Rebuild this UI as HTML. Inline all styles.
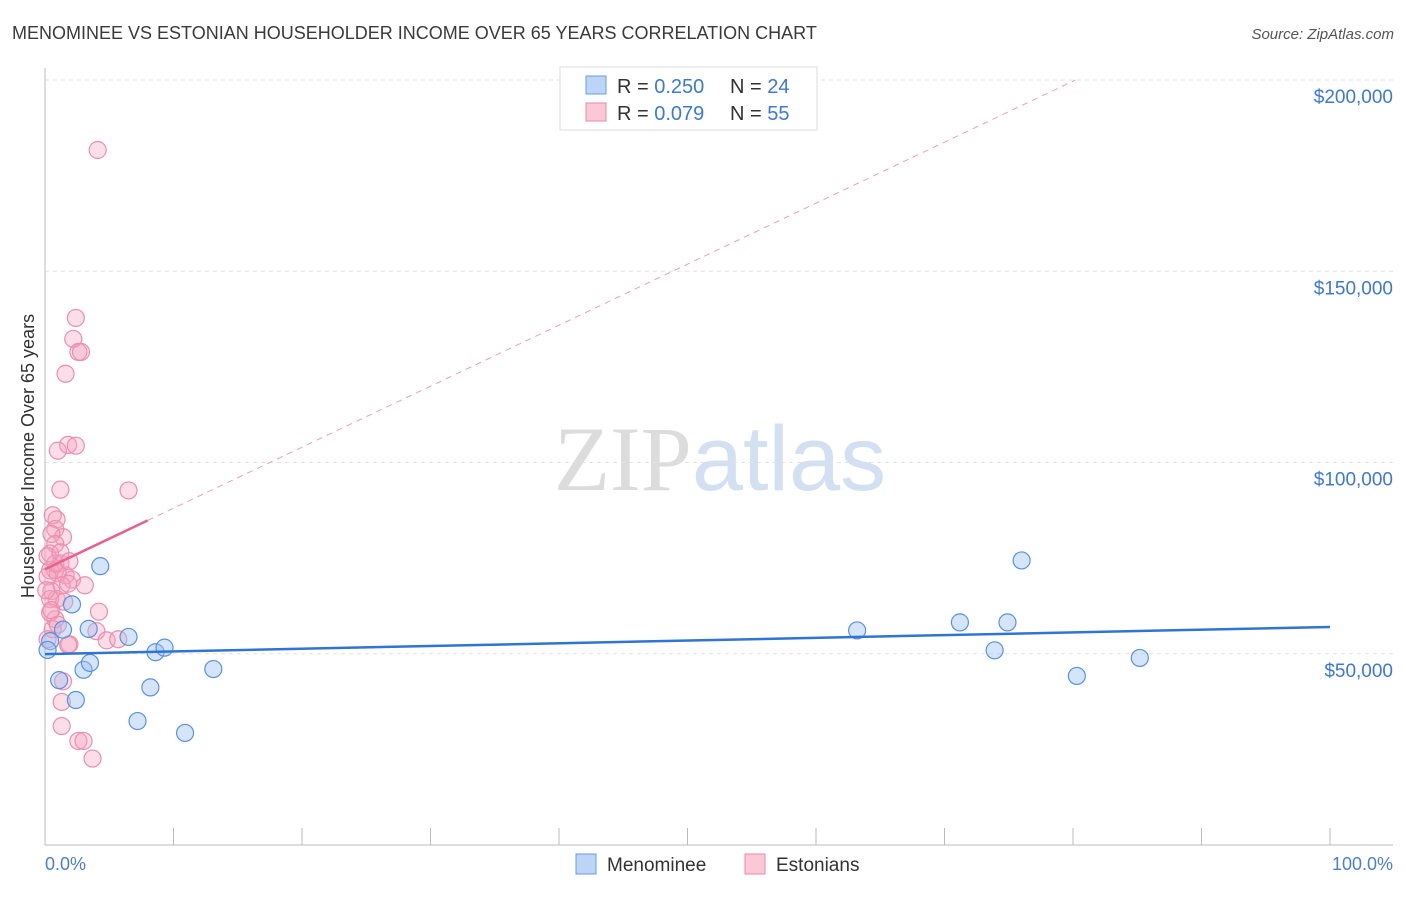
<!DOCTYPE html>
<html><head><meta charset="utf-8"><style>
body{margin:0;background:#fff;font-family:"Liberation Sans",sans-serif;}
svg text{font-family:"Liberation Sans",sans-serif;}
</style></head><body>
<svg id="chart" width="1406" height="892" xmlns="http://www.w3.org/2000/svg">
<text x="12" y="39" font-size="18" fill="#3a3a3a">MENOMINEE VS ESTONIAN HOUSEHOLDER INCOME OVER 65 YEARS CORRELATION CHART</text>
<text x="1394" y="39" font-size="15" fill="#555" text-anchor="end" font-style="italic">Source: ZipAtlas.com</text>
<text x="720" y="490" font-size="92" text-anchor="middle"><tspan fill="#dcdcdc" font-family="Liberation Serif">ZIP</tspan><tspan fill="#d2e0f2">atlas</tspan></text>
<g id="grid"></g><g id="axes"></g><g id="pts"></g><g id="trend"></g>
<text transform="translate(34,456) rotate(-90)" font-size="18" fill="#333" text-anchor="middle">Householder Income Over 65 years</text>
<text x="45" y="870" font-size="18" fill="#4a7fd4">0.0%</text>
<text x="1393" y="870" font-size="18" fill="#4a7fd4" text-anchor="end">100.0%</text>
<g>
<rect x="560" y="67" width="257" height="63" fill="#fff" stroke="#ddd"/>
<rect x="586" y="76" width="20" height="18" fill="#bcd4f6" stroke="#6a9de0"/>
<rect x="586" y="103" width="20" height="18" fill="#fbc8d6" stroke="#e888a8"/>
<text x="617" y="93" font-size="20" fill="#333">R = <tspan fill="#3c78d8">0.250</tspan></text>
<text x="730" y="93" font-size="20" fill="#333">N = <tspan fill="#3c78d8">24</tspan></text>
<text x="617" y="120" font-size="20" fill="#333">R = <tspan fill="#3c78d8">0.079</tspan></text>
<text x="730" y="120" font-size="20" fill="#333">N = <tspan fill="#3c78d8">55</tspan></text>
</g>
<g>
<rect x="576" y="854" width="20" height="20" fill="#bcd4f6" stroke="#6a9de0"/>
<text x="607" y="871" font-size="19" fill="#333">Menominee</text>
<rect x="745" y="854" width="20" height="20" fill="#fbc8d6" stroke="#e888a8"/>
<text x="776" y="871" font-size="19" fill="#333">Estonians</text>
</g>
</svg>
<script>
const yTicks=[50000,100000,150000,200000];
const yTickLabels=["$50,000","$100,000","$150,000","$200,000"];
const blueX=[0.4,1.1,1.4,2.1,2.4,3,3.4,3.5,4.3,6.5,7.2,8.2,8.6,9.3,10.9,13.1,63.2,71.2,73.9,74.9,76,80.3,85.2,0.2];
const blueY=[53.3,43.1,56.3,62.9,37.9,45.8,56.5,47.6,72.9,54.4,32.4,41.2,50.4,51.6,29.3,46.0,56.1,58.2,50.9,58.2,74.4,44.2,48.9,51.0];
const pinkX=[4.1,2.4,2.2,2.6,2.8,1.6,1.8,2.4,1,1.2,6.5,0.9,0.6,0.8,1.4,0.5,0.8,0.4,1.2,1.6,0.4,0.8,1,2.1,3.1,1.3,0.2,0.5,0.9,1.8,4.2,0.4,0.8,0.6,0.2,4,4.8,5.7,1.9,1.8,1.4,1.3,1.3,2.6,3,3.7,0.4,0.8,0.2,1.2,0.5,1.9,1.5,1,0.1];
const pinkY=[181.7,137.8,132.3,128.9,128.9,123.2,104.6,104.4,103.1,92.9,92.7,85.1,86.2,82.6,80.5,81.3,78.7,76.2,73.6,70.5,71.8,71.8,71.0,69.4,67.9,67.9,70.2,66.4,64.3,68.3,61.0,64.3,59.0,56.4,53.8,55.9,53.5,53.8,52.5,52.3,42.8,37.4,31.1,27.2,27.2,22.6,60.8,73.6,75.5,76.5,61.4,74.2,63.6,57.6,66.6];
const L=45,R=1330,T=80,B=845;
const xs=p=>L+(R-L)*p/100, ys=v=>B-(B-T)*v/200000;
const NS="http://www.w3.org/2000/svg";
function mk(par,tag,at){const e=document.createElementNS(NS,tag);for(const k in at)e.setAttribute(k,at[k]);document.getElementById(par).appendChild(e);return e;}
yTicks.forEach((v,i)=>{
 const g=mk('grid','line',{x1:L,x2:1393,y1:ys(v),y2:ys(v),stroke:'#e2e2e2','stroke-dasharray':'4,4'});
 
 
 const t=mk('grid','text',{x:1393,y:ys(v)+23,'font-size':19,fill:'#3c78d8','text-anchor':'end'});
 t.textContent=yTickLabels[i];
 
 
});
const ya=mk('axes','line',{x1:L,x2:L,y1:68,y2:B,stroke:'#bbb'});


const xa=mk('axes','line',{x1:L,x2:1393,y1:B,y2:B,stroke:'#bbb'});


for(let i=0;i<=10;i++){const tk=mk('axes','line',{x1:xs(i*10),x2:xs(i*10),y1:828,y2:B,stroke:'#bbb'});
 
 }
pinkX.forEach((x,i)=>{const c=mk('pts','circle',{cx:xs(x),cy:ys(pinkY[i]*1000),r:8.5,fill:'rgba(246,160,188,0.35)',stroke:'#eb8fae','stroke-width':1.2});
 
 });
blueX.forEach((x,i)=>{const c=mk('pts','circle',{cx:xs(x),cy:ys(blueY[i]*1000),r:8.5,fill:'rgba(150,190,240,0.4)',stroke:'#5a92de','stroke-width':1.2});
 
 });
const bl=mk('trend','line',{x1:xs(0),y1:ys(49900),x2:xs(100),y2:ys(57000),stroke:'#2f74d6','stroke-width':2.5});


const pf=p=>72100+1595*p;
const ps=mk('trend','line',{x1:xs(0),y1:ys(pf(0)),x2:xs(8),y2:ys(pf(8)),stroke:'#e8608e','stroke-width':2.5});


const pend=(200000-72100)/1595;
const pd=mk('trend','line',{x1:xs(8),y1:ys(pf(8)),x2:xs(pend),y2:ys(200000),stroke:'#eaa0b8','stroke-width':1,'stroke-dasharray':'6,5'});


</script>
</body></html>
